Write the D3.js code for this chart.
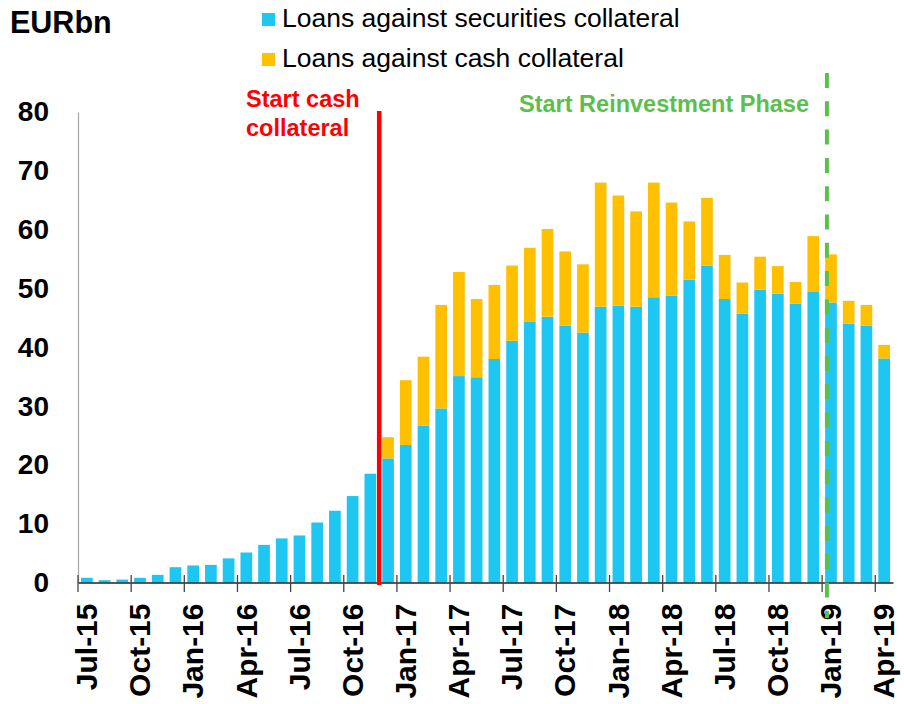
<!DOCTYPE html>
<html><head><meta charset="utf-8">
<script src="https://cdn.jsdelivr.net/npm/d3@7"></script>
<style>
html,body{margin:0;padding:0;background:#fff;}
svg{display:block;font-family:"Liberation Sans",Arial,sans-serif;}
</style></head>
<body>
<svg id="chart" width="904" height="704"></svg>
<script>
const months = ["Jul-15","Aug-15","Sep-15","Oct-15","Nov-15","Dec-15",
"Jan-16","Feb-16","Mar-16","Apr-16","May-16","Jun-16","Jul-16","Aug-16","Sep-16","Oct-16","Nov-16","Dec-16",
"Jan-17","Feb-17","Mar-17","Apr-17","May-17","Jun-17","Jul-17","Aug-17","Sep-17","Oct-17","Nov-17","Dec-17",
"Jan-18","Feb-18","Mar-18","Apr-18","May-18","Jun-18","Jul-18","Aug-18","Sep-18","Oct-18","Nov-18","Dec-18",
"Jan-19","Feb-19","Mar-19","Apr-19"];
const securities = [0.8,0.4,0.5,0.8,1.3,2.6,2.9,3.0,4.1,5.1,6.4,7.5,8.0,10.2,12.2,14.7,18.5,21.1,
23.4,26.7,29.6,35.1,34.9,38.0,41.1,44.4,45.2,43.7,42.5,46.9,47.1,46.9,48.5,48.8,51.5,53.9,
48.2,45.7,49.8,49.1,47.4,49.4,47.6,44.0,43.7,38.1];
const cash = [0,0,0,0,0,0,0,0,0,0,0,0,0,0,0,0,0,3.6,
11.0,11.7,17.6,17.7,13.3,12.6,12.8,12.5,14.9,12.6,11.6,21.1,18.7,16.2,19.5,15.8,9.9,11.5,
7.5,5.3,5.6,4.7,3.7,9.5,8.2,3.9,3.5,2.3];
const tickLabels = ["Jul-15","Oct-15","Jan-16","Apr-16","Jul-16","Oct-16","Jan-17","Apr-17","Jul-17","Oct-17","Jan-18","Apr-18","Jul-18","Oct-18","Jan-19","Apr-19"];
const yTicks = [0,10,20,30,40,50,60,70,80];
const seriesNames = ["Loans against securities collateral","Loans against cash collateral"];
const seriesColors = ["#1EC7F1","#FFC000"];
const eventMonths = ["Dec-16","Jan-19"];
const eventLabels = [["Start cash","collateral"],["Start Reinvestment Phase"]];

const svg = d3.select("#chart");
const x = d3.scaleBand().domain(months).range([78, 893]).paddingInner(0.34).paddingOuter(0.17);
const y = d3.scaleLinear().domain([0, 80]).range([582.5, 112]);
const step = x.step();
const boundary = m => x(m) - step * x.paddingInner() / 2;

const stackData = months.map((m, i) => ({month: m, sec: securities[i], cash: cash[i]}));
const stacked = d3.stack().keys(["sec", "cash"])(stackData);

// bars
svg.append("g").selectAll("g").data(stacked).join("g")
  .attr("fill", (d, i) => seriesColors[i])
  .selectAll("rect").data(d => d).join("rect")
  .attr("x", d => x(d.data.month))
  .attr("width", x.bandwidth())
  .attr("y", d => y(d[1]))
  .attr("height", d => Math.max(0, y(d[0]) - y(d[1])));

// y axis
const yAxis = svg.append("g").attr("transform", "translate(78,0)")
  .call(d3.axisLeft(y).tickValues(yTicks).tickSize(0).tickPadding(29));
yAxis.select(".domain").attr("stroke", "#a6a6a6").attr("stroke-width", 1.2);
yAxis.selectAll("text").attr("font-size", 28).attr("font-weight", "bold").attr("fill", "#000")
  .attr("font-family", "'Liberation Sans',Arial,sans-serif");

// x axis
const xAxis = svg.append("g").attr("transform", "translate(0,582.5)")
  .call(d3.axisBottom(x).tickValues(tickLabels).tickSize(0).tickSizeOuter(0));
xAxis.select(".domain").attr("stroke", "#222").attr("stroke-width", 1.5);
xAxis.selectAll("text")
  .attr("font-size", 30).attr("font-weight", "bold").attr("fill", "#000")
  .attr("font-family", "'Liberation Sans',Arial,sans-serif")
  .attr("text-anchor", "end")
  .attr("transform", "rotate(-90)")
  .attr("x", -21).attr("y", 0).attr("dy", "0.34em");

// boundary ticks every quarter
const tickIdx = d3.range(0, months.length, 3);
svg.append("g").selectAll("line").data(tickIdx).join("line")
  .attr("x1", i => boundary(months[i])).attr("x2", i => boundary(months[i]))
  .attr("y1", 575).attr("y2", 592)
  .attr("stroke", "#444").attr("stroke-width", 1.3);

// event lines
const redX = boundary(eventMonths[0]);
svg.append("line").attr("x1", redX).attr("x2", redX).attr("y1", 111).attr("y2", 585)
  .attr("stroke", "#FF0000").attr("stroke-width", 4.5);
const greenX = boundary(eventMonths[1]) + step * 0.27;
svg.append("line").attr("x1", greenX).attr("x2", greenX).attr("y1", 73).attr("y2", 618)
  .attr("stroke", "#5CBF4B").attr("stroke-width", 4).attr("stroke-dasharray", "15,13.3");

// event labels
svg.append("text").attr("x", 246).attr("y", 107).attr("font-size", 23.5).attr("font-weight", "bold")
  .attr("fill", "#FF0000").text(eventLabels[0][0]);
svg.append("text").attr("x", 246).attr("y", 135.5).attr("font-size", 23.5).attr("font-weight", "bold")
  .attr("fill", "#FF0000").text(eventLabels[0][1]);
svg.append("text").attr("x", 809).attr("y", 112).attr("font-size", 23.5).attr("font-weight", "bold")
  .attr("text-anchor", "end").attr("fill", "#5CBF4B").text(eventLabels[1][0]);

// unit label
svg.append("text").attr("x", 10).attr("y", 33).attr("font-size", 30.5).attr("font-weight", "bold")
  .attr("fill", "#000").text("EURbn");

// legend
const leg = svg.append("g").selectAll("g").data(seriesNames).join("g")
  .attr("transform", (d, i) => `translate(262,${13 + i * 40})`);
leg.append("rect").attr("width", 13).attr("height", 13).attr("fill", (d, i) => seriesColors[i]);
leg.append("text").attr("x", 20).attr("y", 14).attr("font-size", 26.5).attr("fill", "#000").text(d => d);
</script>
</body></html>
